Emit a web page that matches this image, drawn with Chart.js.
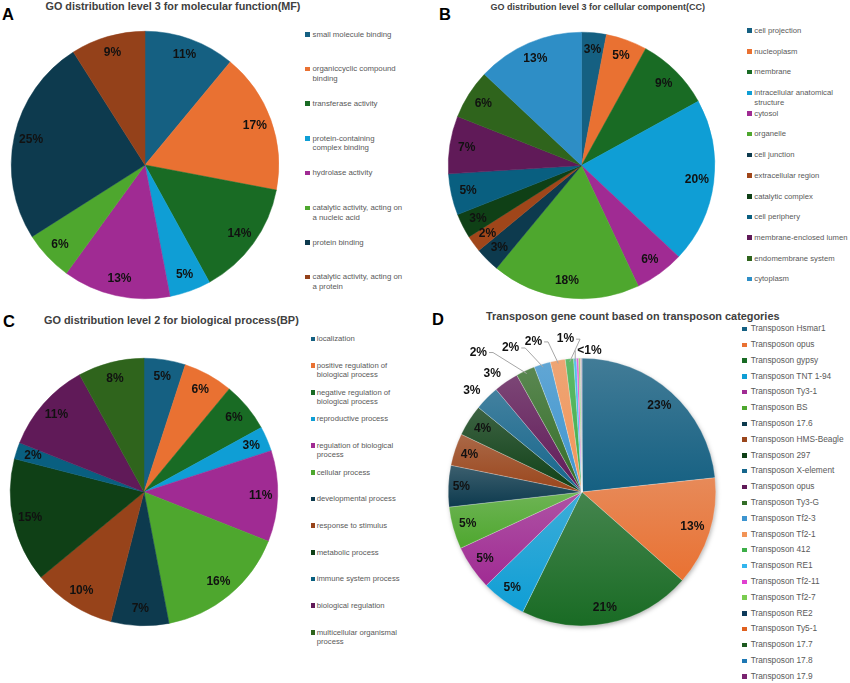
<!DOCTYPE html>
<html>
<head>
<meta charset="utf-8">
<script src="https://cdn.jsdelivr.net/npm/chart.js@4.4.1/dist/chart.umd.min.js"></script>
<style>
  body { margin: 0; background: #fff; width: 850px; height: 683px; position: relative; overflow: hidden; }
  canvas { position: absolute; }
  .letter { position: absolute; font: bold 16.5px "Liberation Sans", Arial, sans-serif; line-height: 16.5px; color: #000; }
  .title { position: absolute; font-family: "Liberation Sans", Arial, sans-serif; font-weight: bold; color: #404040; white-space: nowrap; }
  .item { position: absolute; font-family: "Liberation Sans", Arial, sans-serif; color: #595959; line-height: 9.5px; }
  .item i { position: absolute; left: 0; top: 2.5px; width: 4.5px; height: 4.5px; }
</style>
</head>
<body>

<div class="letter" style="left:2px;top:6px">A</div>
<div class="letter" style="left:439px;top:6px">B</div>
<div class="letter" style="left:3px;top:313px">C</div>
<div class="letter" style="left:432px;top:311px">D</div>

<div class="title" style="left:45.5px;top:1px;font-size:10.8px;line-height:10.8px">GO distribution level 3 for molecular function(MF)</div>
<div class="title" style="left:490.5px;top:3px;font-size:9px;line-height:9px">GO distribution level 3 for cellular component(CC)</div>
<div class="title" style="left:44px;top:314.8px;font-size:10.9px;line-height:10.9px">GO distribution level 2 for biological process(BP)</div>
<div class="title" style="left:486px;top:311.4px;font-size:10.9px;line-height:10.9px">Transposon gene count based on transposon categories</div>

<canvas id="chartA" width="280" height="280" style="left:5px;top:25px"></canvas>
<canvas id="chartB" width="279" height="279" style="left:442px;top:26px"></canvas>
<canvas id="chartC" width="280" height="280" style="left:4px;top:352px"></canvas>
<canvas id="chartD" width="300" height="320" style="left:432px;top:322px"></canvas>

<script>
// ---- A: molecular function
var mfCategories = ['small molecule binding', 'organiccyclic compound binding', 'transferase activity',
  'protein-containing complex binding', 'hydrolase activity', 'catalytic activity, acting on a nucleic acid',
  'protein binding', 'catalytic activity, acting on a protein'];
var mfValues = [11, 17, 14, 5, 13, 6, 25, 9];
var mfColors = ['#156082', '#E97132', '#196B24', '#0F9ED5', '#A02B93', '#4EA72E', '#0D3A4E', '#94411A'];

// ---- B: cellular component
var ccCategories = ['cell projection', 'nucleoplasm', 'membrane', 'intracellular anatomical structure', 'cytosol',
  'organelle', 'cell junction', 'extracellular region', 'catalytic complex', 'cell periphery',
  'membrane-enclosed lumen', 'endomembrane system', 'cytoplasm'];
var ccValues = [3, 5, 9, 20, 6, 18, 3, 2, 3, 5, 7, 6, 13];
var ccColors = ['#156082', '#E97132', '#196B24', '#0F9ED5', '#A02B93', '#4EA72E', '#0D3A4E', '#A0461A',
  '#0F4016', '#095F80', '#601A58', '#2F641C', '#2E8EC6'];

// ---- C: biological process
var bpCategories = ['localization', 'positive regulation of biological process', 'negative regulation of biological process',
  'reproductive process', 'regulation of biological process', 'cellular process', 'developmental process',
  'response to stimulus', 'metabolic process', 'immune system process', 'biological regulation',
  'multicellular organismal process'];
var bpValues = [5, 6, 6, 3, 11, 16, 7, 10, 15, 2, 11, 8];
var bpColors = ['#156082', '#E97132', '#196B24', '#0F9ED5', '#A02B93', '#4EA72E', '#0D3A4E', '#97431A',
  '#0F4016', '#095F80', '#601A58', '#2F641C'];

// ---- D: transposon categories (percent of genes)
var tpCategories = ['Transposon Hsmar1', 'Transposon opus', 'Transposon gypsy', 'Transposon TNT 1-94',
  'Transposon Ty3-1', 'Transposon BS', 'Transposon 17.6', 'Transposon HMS-Beagle', 'Transposon 297',
  'Transposon X-element', 'Transposon opus', 'Transposon Ty3-G', 'Transposon Tf2-3', 'Transposon Tf2-1',
  'Transposon 412', 'Transposon RE1', 'Transposon Tf2-11', 'Transposon Tf2-7', 'Transposon RE2',
  'Transposon Ty5-1', 'Transposon 17.7', 'Transposon 17.8', 'Transposon 17.9'];
var tpValues = [23.3, 13.2, 20.8, 5.4, 5.4, 5.1, 5.0, 3.9, 3.8, 3.0, 3.0, 2.3, 2.0, 1.8, 1.0,
  0.35, 0.25, 0.2, 0.04, 0.04, 0.04, 0.04, 0.04];
var tpColors = ['#156082', '#E97132', '#196B24', '#0F9ED5', '#A02B93', '#4EA72E', '#0D3A4E', '#9A461C',
  '#0F4016', '#16668C', '#601A58', '#346E28', '#3D95D0', '#F29457', '#3CAE48', '#33B5EE', '#E040D0',
  '#7ACC50', '#0E3A5A', '#E0601E', '#1E5A20', '#1E78B4', '#7A2470'];
// label placement for D: distance from the rim (px) and angular nudge (deg)
var tpLabelGap = [-18, -18, -16, -15, -16, -15, -13, -15, -16, 16, 15, 40, 27, 24, 20, 8];
var tpLabelShift = [0, 0, 0, 0, 0, 0, 0, 0, 0, -2, -2.6, -11.6, -9.1, -7.5, -0.8, 6];

function pctTexts(values) {
  var total = values.reduce(function (a, b) { return a + b; }, 0);
  var smallDone = false;
  return values.map(function (v) {
    var p = Math.round(v / total * 1000) / 10;
    if (p < 1) {
      if (smallDone) return '';
      smallDone = true;
      return '<1%';
    }
    return Math.round(p) + '%';
  });
}

function makeLabelPlugin(cfg) {
  return {
    id: 'sliceLabels',
    afterDatasetsDraw: function (chart) {
      var ctx = chart.ctx;
      var arcs = chart.getDatasetMeta(0).data;
      ctx.save();
      ctx.font = 'bold 12px "Liberation Sans", Arial, sans-serif';
      ctx.textAlign = 'center';
      ctx.textBaseline = 'middle';
      arcs.forEach(function (arc, i) {
        var text = cfg.texts[i];
        if (!text) return;
        var p = arc.getProps(['x', 'y', 'startAngle', 'endAngle', 'outerRadius'], true);
        var mid = (p.startAngle + p.endAngle) / 2;
        var gap = cfg.gaps ? cfg.gaps[i] : -cfg.inset;
        var shift = cfg.shifts ? cfg.shifts[i] : 0;
        var a = mid + shift * Math.PI / 180;
        var lx = p.x + Math.cos(a) * (p.outerRadius + gap);
        var ly = p.y + Math.sin(a) * (p.outerRadius + gap);
        // leader line for labels pushed away from their slice
        if (gap >= 20 || Math.abs(shift) >= 5) {
          var ax = p.x + Math.cos(mid) * (p.outerRadius - 3);
          var ay = p.y + Math.sin(mid) * (p.outerRadius - 3);
          var hw = ctx.measureText(text).width / 2 + 2;
          var sx = ax > lx ? lx + hw : lx - hw;
          var kx = sx + (ax > lx ? 4 : -4);
          if (Math.abs(ax - sx) < 4) kx = ax;
          ctx.strokeStyle = '#A6A6A6';
          ctx.lineWidth = 1;
          ctx.beginPath();
          ctx.moveTo(sx, ly);
          ctx.lineTo(kx, ly);
          ctx.lineTo(ax, ay);
          ctx.stroke();
        }
        ctx.fillStyle = '#111';
        ctx.fillText(text, lx, ly);
      });
      ctx.restore();
    }
  };
}

// soft shadow under the D pie
var pieShadow = {
  id: 'pieShadow',
  beforeDatasetsDraw: function (chart) {
    var area = chart.chartArea, ctx = chart.ctx;
    var cx = (area.left + area.right) / 2, cy = (area.top + area.bottom) / 2;
    var r = Math.min(area.right - area.left, area.bottom - area.top) / 2;
    ctx.save();
    ctx.shadowColor = 'rgba(0,0,0,0.35)';
    ctx.shadowBlur = 5;
    ctx.shadowOffsetX = 1;
    ctx.shadowOffsetY = 2;
    ctx.fillStyle = '#fff';
    ctx.beginPath();
    ctx.arc(cx, cy, r - 1, 0, Math.PI * 2);
    ctx.fill();
    ctx.restore();
  }
};

function lighten(hex, amt) {
  var n = parseInt(hex.slice(1), 16);
  var r = n >> 16, g = (n >> 8) & 255, b = n & 255;
  r = Math.round(r + (225 - r) * amt);
  g = Math.round(g + (225 - g) * amt);
  b = Math.round(b + (225 - b) * amt);
  return 'rgb(' + r + ',' + g + ',' + b + ')';
}

// vertical gradient per slice, lighter at the top of each slice
function sliceGradient(values, colors) {
  var total = values.reduce(function (a, b) { return a + b; }, 0);
  return function (c) {
    var base = colors[c.dataIndex];
    var area = c.chart.chartArea;
    if (!area) return base;
    var cx = (area.left + area.right) / 2, cy = (area.top + area.bottom) / 2;
    var r = Math.min(area.right - area.left, area.bottom - area.top) / 2;
    var before = 0;
    for (var k = 0; k < c.dataIndex; k++) before += values[k];
    var a0 = before / total * 2 * Math.PI - Math.PI / 2;
    var a1 = (before + values[c.dataIndex]) / total * 2 * Math.PI - Math.PI / 2;
    var ys = [cy, cy + r * Math.sin(a0), cy + r * Math.sin(a1)];
    [-Math.PI / 2, Math.PI / 2, 3 * Math.PI / 2].forEach(function (t) {
      if (t >= a0 && t <= a1) ys.push(cy + r * Math.sin(t));
    });
    var y0 = Math.min.apply(null, ys), y1 = Math.max.apply(null, ys);
    if (y1 - y0 < 1) return base;
    var g = c.chart.ctx.createLinearGradient(0, y0, 0, y1);
    g.addColorStop(0, lighten(base, 0.22));
    g.addColorStop(1, base);
    return g;
  };
}

function pieChart(id, values, colors, labelCfg, padding, extra) {
  var opts = {
    responsive: false,
    animation: false,
    events: [],
    layout: { padding: padding },
    plugins: { legend: { display: false }, tooltip: { enabled: false } }
  };
  var dataset = {
    data: values,
    backgroundColor: colors,
    borderColor: colors,
    borderWidth: 0.5
  };
  if (extra) {
    dataset.backgroundColor = extra.fill;
    dataset.borderColor = 'rgba(255,255,255,0.45)';
  }
  var plugins = [makeLabelPlugin(labelCfg)];
  if (extra) plugins.unshift(pieShadow);
  return new Chart(document.getElementById(id), {
    type: 'pie',
    data: { labels: values.map(function (v, i) { return i; }), datasets: [dataset] },
    options: opts,
    plugins: plugins
  });
}

pieChart('chartA', mfValues, mfColors, { texts: pctTexts(mfValues), inset: 17 }, 6);
pieChart('chartB', ccValues, ccColors, { texts: pctTexts(ccValues), inset: 17 }, 6);
pieChart('chartC', bpValues, bpColors, { texts: pctTexts(bpValues), inset: 17 }, 6);
pieChart('chartD', tpValues, tpColors,
  { texts: pctTexts(tpValues), gaps: tpLabelGap, shifts: tpLabelShift },
  { left: 16, right: 16, top: 36, bottom: 16 },
  { fill: sliceGradient(tpValues, tpColors) });

// ---- legends
function legend(names, colors, markerLeft, textLeft, firstY, step, width, fontSize) {
  names.forEach(function (name, i) {
    var el = document.createElement('div');
    el.className = 'item';
    el.style.left = markerLeft + 'px';
    el.style.top = (firstY + i * step - 4.75) + 'px';
    el.style.fontSize = fontSize + 'px';
    el.style.paddingLeft = (textLeft - markerLeft) + 'px';
    el.style.width = width + 'px';
    var sq = document.createElement('i');
    sq.style.background = colors[i];
    el.appendChild(sq);
    el.appendChild(document.createTextNode(name));
    document.body.appendChild(el);
  });
}

legend(mfCategories, mfColors, 305, 312.5, 34.3, 34.7, 91, 7.8);
legend(ccCategories, ccColors, 747, 754.3, 30.7, 20.7, 98, 7.7);
legend(bpCategories, bpColors, 310.5, 316.7, 339, 26.67, 88, 7.7);
legend(tpCategories, tpColors, 742, 750.7, 329, 15.8, 105, 8.3);
</script>
</body>
</html>
